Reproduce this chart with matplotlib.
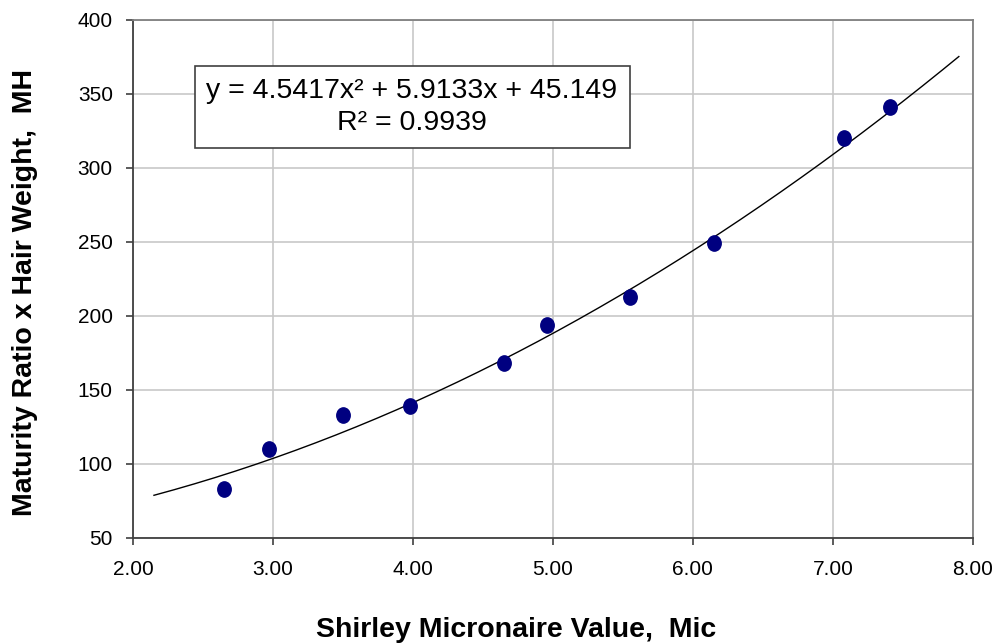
import numpy as np
import matplotlib
matplotlib.use("Agg")
import matplotlib.pyplot as plt
from matplotlib.path import Path
from matplotlib.transforms import Affine2D

# Measured data points (Mic vs MH)
mic_values = [2.65, 2.97, 3.50, 3.98, 4.65, 4.96, 5.55, 6.15, 7.08, 7.41]
mh_values = [83, 110, 133, 139, 168, 194, 213, 249, 320, 341]

# Polynomial trendline coefficients as printed on the chart
trend_coefs = [4.5417, 5.9133, 45.149]
trend_range = [2.15, 7.90]
equation_text = "y = 4.5417x\u00b2 + 5.9133x + 45.149\nR\u00b2 = 0.9939"

x_ticks = [2.0, 3.0, 4.0, 5.0, 6.0, 7.0, 8.0]
y_ticks = [50, 100, 150, 200, 250, 300, 350, 400]

plt.rcParams['font.family'] = ['Liberation Sans', 'DejaVu Sans']

fig = plt.figure(figsize=(10.05, 6.43), dpi=100)
ax = fig.add_axes([0.1323, 0.1633, 0.8357, 0.8056])

# Slightly tall ellipse marker like the original
ellipse = Path.unit_circle().transformed(Affine2D().scale(0.88, 1.0))

ax.plot(mic_values, mh_values, linestyle='none', marker=ellipse,
        markersize=11, color='#000080', zorder=3)

xs = np.linspace(trend_range[0], trend_range[1], 200)
ax.plot(xs, np.polyval(trend_coefs, xs), color='black', linewidth=1.0, zorder=2)

ax.set_xlim(2, 8)
ax.set_ylim(50, 400)
ax.set_xticks(x_ticks)
ax.set_yticks(y_ticks)
ax.set_xticklabels([f"{v:.2f}" for v in x_ticks])
ax.tick_params(axis='both', labelsize=15, direction='out', length=5,
               width=1.2, color='#404040')
ax.tick_params(axis='x', pad=11)
ax.tick_params(axis='y', pad=9.5)
ax.grid(True, color='#c8c8c8', linewidth=1.2)
ax.set_axisbelow(True)

for side in ['left', 'bottom']:
    ax.spines[side].set_color('#404040')
    ax.spines[side].set_linewidth(1.3)
for side in ['top', 'right']:
    ax.spines[side].set_color('#808080')
    ax.spines[side].set_linewidth(1.3)

ax.set_xlabel('Shirley Micronaire Value,  Mic', fontsize=20.5, fontweight='bold')
ax.xaxis.set_label_coords(0.456, -0.152)
ax.set_ylabel('Maturity Ratio x Hair Weight,  MH', fontsize=20.5, fontweight='bold')
ax.yaxis.set_label_coords(-0.113, 0.474)

ax.text(0.41, 0.834, equation_text, transform=fig.transFigure, ha='center', va='center',
        fontsize=20.5, linespacing=1.3,
        bbox=dict(boxstyle='square,pad=0.42', facecolor='white', edgecolor='#404040', linewidth=1.2))

fig.savefig('out.png', dpi=100)
